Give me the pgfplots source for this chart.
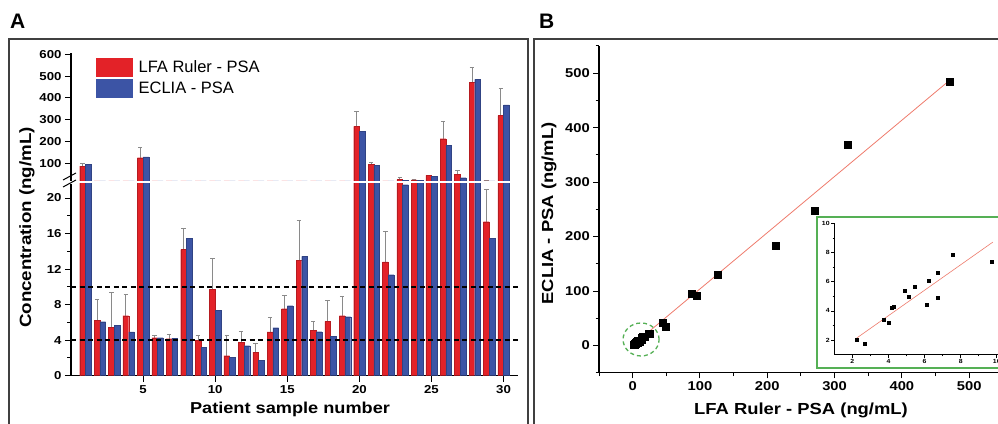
\documentclass[border=0pt]{standalone}
\usepackage{fontspec}
\setmainfont{Liberation Sans}
\newfontfamily\wf{Liberation Sans}[FakeStretch=1.15]
\usepackage{pgfplots}
\pgfplotsset{compat=1.18}
\usepackage{pgfplotstable}
\definecolor{barred}{HTML}{E32228}
\definecolor{barblue}{HTML}{3C54A5}
\definecolor{fitred}{HTML}{EE7B6C}
\definecolor{boxgreen}{HTML}{55B055}
\definecolor{framegray}{HTML}{404040}
\definecolor{errgray}{HTML}{8A8A8A}

% sample, LFA ruler, its upper error, ECLIA
\pgfplotstableread{
n lfa err eclia
1 87 12 96
2 6.23 2.37 6.08
3 5.48 3.92 5.67
4 6.75 2.35 4.92
5 126 48 130
6 4.28 0.26 4.28
7 4.16 0.49 4.20
8 14.2 2.4 15.46
9 4.0 0.58 3.19
10 9.72 3.48 7.35
11 2.25 2.29 2.06
12 3.75 1.28 3.38
13 2.66 1.02 1.73
14 4.92 1.61 5.4
15 7.54 1.46 7.88
16 12.98 4.47 13.43
17 5.14 0.94 4.95
18 6.12 2.4 4.43
19 6.75 2.18 6.64
20 270 70 248
21 95 11 91
22 12.8 3.45 11.37
23 25.5 10.5 21.5
24 24.5 2 22
25 45 1 42
26 213 81 184
27 49.5 19.5 34.3
28 471 69 485
29 17.34 3.64 15.46
30 319 125 368
}\psa

\pgfplotsset{
  barA/.style={scale only axis, width=447pt, xmin=0, xmax=31,
    axis line style={line width=1.1pt}, tick style={line width=1pt, black},
    tick align=outside, major tick length=6pt, minor tick length=3.5pt,
    tick label style={font=\wf\bfseries\fontsize{11.5}{12}\selectfont},
    /pgf/number format/assume math mode=true},
  redbar/.style={ybar, bar width=5.7pt, bar shift=-2.85pt, fill=barred, draw=barred!80!black, line width=0.3pt},
  bluebar/.style={ybar, bar width=5.7pt, bar shift=2.85pt, fill=barblue, draw=barblue!80!black, line width=0.3pt},
  errbar/.style={forget plot, draw=none, mark=none, line width=0.7pt,
    error bars/y dir=plus, error bars/y explicit,
    error bars/error bar style={draw=errgray, line width=0.7pt},
    error bars/error mark options={rotate=90, draw=errgray, mark size=2.2pt, line width=0.8pt}},
}

\begin{document}
\begin{tikzpicture}
\useasboundingbox (0,0) rectangle (998pt,423pt);
\clip (0,0) rectangle (998pt,423pt);

% frames
\draw[framegray, line width=1.8pt] (9pt,-5pt) -- (9pt,383.7pt) -- (528pt,383.7pt) -- (528pt,-5pt);
\draw[framegray, line width=1.8pt] (534pt,-5pt) -- (534pt,383.7pt) -- (1005pt,383.7pt);
\node[anchor=base west, inner sep=0pt, font=\bfseries\fontsize{21}{21}\selectfont] at (10pt,394pt) {A};
\node[anchor=base west, inner sep=0pt, font=\bfseries\fontsize{21}{21}\selectfont] at (539pt,394pt) {B};

% ---- panel A, lower part
\begin{axis}[barA, at={(71pt,47.3pt)}, anchor=south west, height=191.7pt,
  ymin=0, ymax=21.58, axis x line*=bottom, axis y line*=left,
  xtick={5,10,...,30}, ytick={0,4,...,20}, minor ytick={2,6,...,18}]
\addplot[errbar] table[x expr=\thisrow{n}-0.1977, y=lfa, y error=err]{\psa};
\addplot[redbar] table[x=n, y=lfa]{\psa};
\addplot[bluebar] table[x=n, y=eclia]{\psa};
\addplot[black, line width=1.4pt, dash pattern=on 5pt off 3.5pt] coordinates {(0,4) (31,4)};
\addplot[black, line width=1.4pt, dash pattern=on 5pt off 3.5pt] coordinates {(0,10) (31,10)};
\end{axis}

% ---- panel A, upper part
\begin{axis}[barA, at={(71pt,242.2pt)}, anchor=south west, height=127.5pt,
  ymin=20, ymax=605, axis x line=none, axis y line*=left,
  ytick={100,200,...,600},
  legend style={at={(axis description cs:0.0553,0.965)}, anchor=north west,
    draw=none, fill=none, inner sep=0pt, row sep=3.4pt, column sep=6.3pt,
    nodes={inner sep=0pt}, font=\fontsize{16.5}{17}\selectfont},
  legend cell align=left]
\addplot[errbar] table[x expr=\thisrow{n}-0.1977, y=lfa, y error=err]{\psa};
\addplot[forget plot, redbar] table[x=n, y=lfa]{\psa};
\addplot[forget plot, bluebar] table[x=n, y=eclia]{\psa};
\addlegendimage{legend image code/.code={\fill[barred] (0pt,-8.8pt) rectangle (36pt,8.8pt);}}
\addlegendentry{LFA Ruler - PSA}
\addlegendimage{legend image code/.code={\fill[barblue] (0pt,-8.8pt) rectangle (36pt,8.8pt);}}
\addlegendentry{ECLIA - PSA}
\end{axis}

% axis break marks
\draw[black, line width=1pt] (63pt,243pt) -- (76pt,250pt);
\draw[black, line width=1pt] (63pt,236pt) -- (76pt,243pt);
\node[font=\wf\bfseries\fontsize{15.8}{16}\selectfont, anchor=base] at (290pt,10pt) {Patient sample number};
\node[font=\wf\bfseries\fontsize{16.3}{16}\selectfont, rotate=90] at (27pt,195.5pt) {Concentration (ng/mL)};

% ---- panel B
\begin{axis}[scale only axis, at={(599pt,50.3pt)}, anchor=south west,
  width=437.5pt, height=326.7pt, xmin=-50, xmax=600, ymin=-50, ymax=550,
  axis x line*=bottom, axis y line*=left,
  axis line style={line width=1.1pt}, tick style={line width=1pt, black},
  tick align=outside, major tick length=5.7pt, minor tick length=3.5pt,
  xtick={0,100,...,500}, minor xtick={-50,50,...,550},
  ytick={0,100,...,500}, minor ytick={-50,50,...,550},
  tick label style={font=\wf\bfseries\fontsize{12.8}{13}\selectfont},
  /pgf/number format/assume math mode=true]
\addplot[fitred, line width=0.8pt] coordinates {(0,0.5) (468,484)};
\addplot[only marks, mark=square*, mark size=3.5pt, black] table[x=lfa, y=eclia]{\psa};
\draw[boxgreen, line width=1.3pt, dash pattern=on 4pt off 3pt] (axis cs:12.5,11) ellipse [x radius=18pt, y radius=16.5pt];
\end{axis}
\node[font=\wf\bfseries\fontsize{16}{16}\selectfont, anchor=base] at (801pt,8.5pt) {LFA Ruler - PSA (ng/mL)};
\node[font=\wf\bfseries\fontsize{16}{16}\selectfont, rotate=90] at (549pt,209.5pt) {ECLIA - PSA (ng/mL)};

% ---- inset
\fill[white] (816.7pt,54.7pt) rectangle (1005pt,206.3pt);
\draw[boxgreen, line width=1.8pt] (1005pt,206.3pt) -- (816.7pt,206.3pt) -- (816.7pt,54.7pt) -- (1005pt,54.7pt);
\begin{axis}[scale only axis, at={(834.3pt,68.3pt)}, anchor=south west,
  width=171.5pt, height=131.4pt, xmin=1, xmax=10.5, ymin=1, ymax=10,
  axis x line*=bottom, axis y line*=left,
  axis line style={line width=0.7pt}, tick style={line width=0.6pt, black},
  tick align=outside, major tick length=3pt, minor tick length=1.8pt,
  xtick={2,4,...,10}, minor xtick={3,5,7,9},
  ytick={2,4,...,10}, minor ytick={3,5,7,9},
  tick label style={font=\wf\bfseries\fontsize{6}{7}\selectfont, inner sep=1.5pt},
  /pgf/number format/assume math mode=true]
\addplot[fitred, line width=0.6pt] coordinates {(2.24,2.14) (9.78,8.71)};
\addplot[only marks, mark=square*, mark size=1.5pt, black] table[x=lfa, y=eclia]{\psa};
\end{axis}
\end{tikzpicture}
\end{document}
